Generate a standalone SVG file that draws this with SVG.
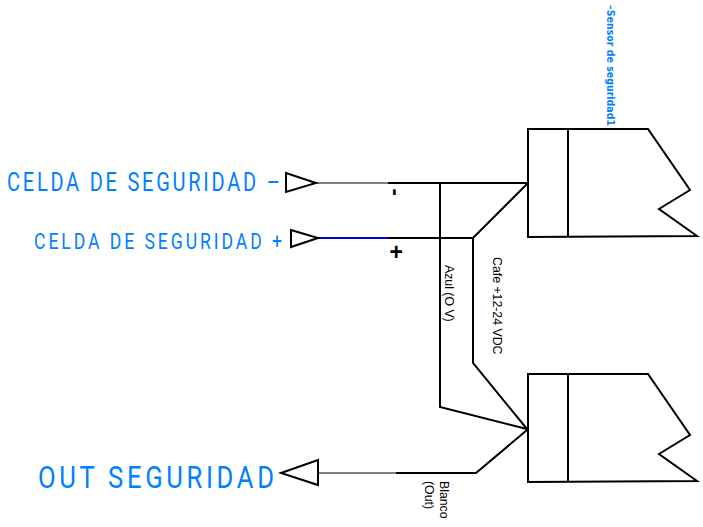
<svg xmlns="http://www.w3.org/2000/svg" width="703" height="527" viewBox="0 0 703 527">
<style>
.s{fill:none;stroke:#000;stroke-width:2;stroke-linejoin:miter}
.w{fill:none;stroke:#000;stroke-width:2}
.b{font-family:"Roboto","Liberation Sans",sans-serif;fill:#0080ff;font-weight:400}
.k{font-family:"Liberation Sans",Arial,sans-serif;fill:#000;font-size:12.3px}
</style>
<rect width="703" height="527" fill="#fff"/>
<g id="connectors">
<path class="w" style="stroke:#808080" d="M317 183H388"/>
<path class="w" d="M388 183H527"/>
<path class="w" style="stroke:#0000e6" d="M318 238H388"/>
<path class="w" d="M388 238H473L527 184"/>
<path class="w" d="M440 183V407L527 429"/>
<path class="w" d="M473 238V363L527 429"/>
<path class="w" style="stroke:#808080" d="M319 473H396"/>
<path class="w" d="M396 473H476L527 430"/>
</g>
<g id="sensor-top">
<path class="s" d="M528 129H648L690 190L659 209L697 236L528 237Z"/>
<path class="s" d="M568 129V237"/>
<text transform="translate(607 5) rotate(90)" textLength="121" lengthAdjust="spacingAndGlyphs" style="font-family:'DejaVu Sans',sans-serif;font-weight:700;font-size:10px;fill:#0080ff">–Sensor de seguridad1</text>
</g>
<g id="sensor-bottom">
<path class="s" d="M528 374H648L690 435L659 454L697 481L528 482Z"/>
<path class="s" d="M568 374V482"/>
</g>
<g id="port-celda-neg">
<path class="s" d="M286 173L316 183L286 192Z"/>
<text class="b" transform="translate(7 191) scale(.8 1)" font-size="25" textLength="341" lengthAdjust="spacing">CELDA DE SEGURIDAD –</text>
<text transform="translate(388.500 188.500) rotate(90)" style="font-family:'Liberation Sans',sans-serif;font-weight:700;font-size:22px">-</text>
</g>
<g id="port-celda-pos">
<path class="s" d="M291 230L318 238L291 247Z"/>
<text class="b" transform="translate(34 249) scale(.8 1)" font-size="22" textLength="310" lengthAdjust="spacing">CELDA DE SEGURIDAD +</text>
<text x="389.500" y="260" style="font-family:'Liberation Sans',sans-serif;font-weight:700;font-size:23px">+</text>
</g>
<g id="port-out">
<path class="s" d="M318 460L281 473L318 485Z"/>
<text class="b" transform="translate(38 488) scale(.8 1)" font-size="32" textLength="295" lengthAdjust="spacing">OUT SEGURIDAD</text>
</g>
<g id="wire-labels">
<text class="k" transform="translate(445 265) rotate(90)">Azul (O V)</text>
<text class="k" transform="translate(493 257) rotate(90)">Cafe +12-24 VDC</text>
<text class="k" transform="translate(439.500 481) rotate(90)">Blanco</text>
<text class="k" transform="translate(425 481) rotate(90)">(Out)</text>
</g>
</svg>
